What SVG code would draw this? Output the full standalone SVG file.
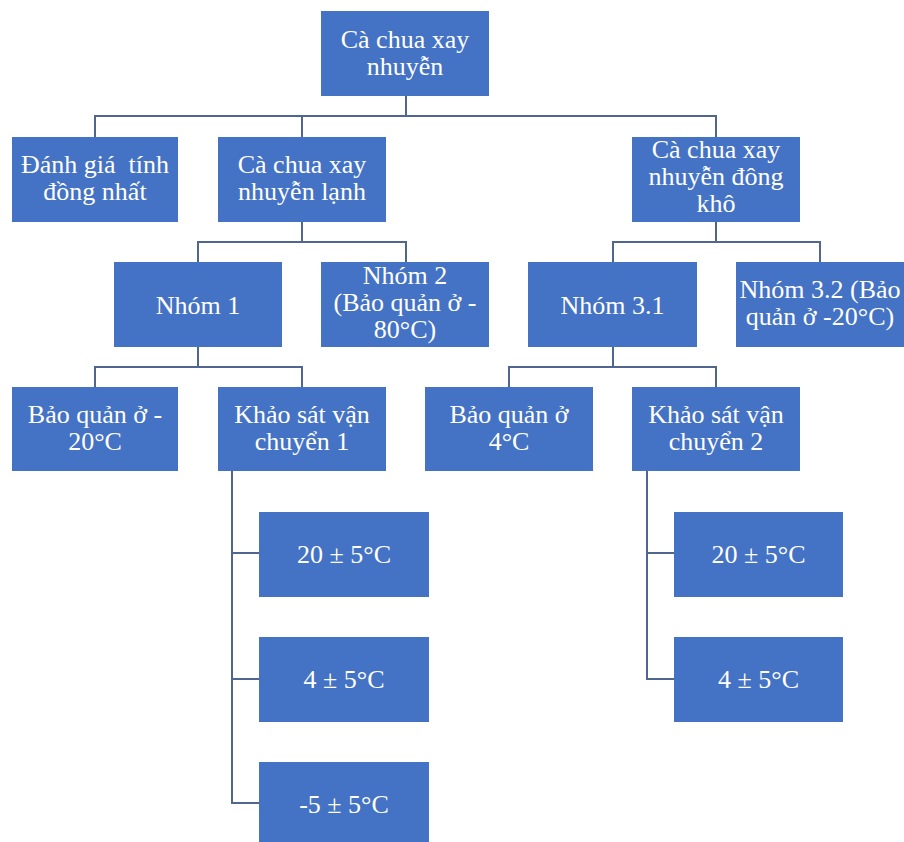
<svg xmlns="http://www.w3.org/2000/svg" width="904" height="842" viewBox="0 0 904 842">
<style>
.box{fill:#4472C4;}
.t{font-family:'Liberation Serif','Times New Roman','DejaVu Serif',serif;font-size:26px;fill:#ffffff;text-anchor:middle;}
.c{fill:none;stroke:#51668F;stroke-width:2;}
</style>
<rect width="904" height="842" fill="#ffffff"/>
<g id="connectors">
<path class="c" d="M406 96V116M95 137V116H716V137M302 116V137"/>
<path class="c" d="M302 222V242M198 262V242H406V262"/>
<path class="c" d="M716 222V242M613 262V242H820V262"/>
<path class="c" d="M198 347V367M95 387V367H302V387"/>
<path class="c" d="M613 347V367M509 387V367H716V387"/>
<path class="c" d="M232 471V803H259M232 553H259M232 679H259"/>
<path class="c" d="M647 471V679H674M647 553H674"/>
</g>
<g id="root"><rect class="box" x="321" y="11" width="168" height="85"/><text class="t" font-family="Liberation Serif, serif" x="405" y="48">Cà chua xay</text><text class="t" font-family="Liberation Serif, serif" x="405" y="75">nhuyễn</text></g>
<g id="danhgia"><rect class="box" x="12" y="137" width="166" height="85"/><text class="t" x="95" y="173" xml:space="preserve">Đánh giá  tính</text><text class="t" x="95" y="200">đồng nhất</text></g>
<g id="lanh"><rect class="box" x="218" y="137" width="168" height="85"/><text class="t" x="302" y="173">Cà chua xay</text><text class="t" x="302" y="200">nhuyễn lạnh</text></g>
<g id="dongkho"><rect class="box" x="632" y="137" width="168" height="85"/><text class="t" x="716" y="158">Cà chua xay</text><text class="t" x="716" y="185">nhuyễn đông</text><text class="t" x="716" y="212">khô</text></g>
<g id="nhom1"><rect class="box" x="114" y="262" width="168" height="85"/><text class="t" x="198" y="314">Nhóm 1</text></g>
<g id="nhom2"><rect class="box" x="321" y="262" width="168" height="85"/><text class="t" x="405" y="284">Nhóm 2</text><text class="t" x="405" y="311">(Bảo quản ở -</text><text class="t" x="405" y="338">80°C)</text></g>
<g id="nhom31"><rect class="box" x="528" y="262" width="169" height="85"/><text class="t" x="612.5" y="314">Nhóm 3.1</text></g>
<g id="nhom32"><rect class="box" x="736" y="262" width="168" height="85"/><text class="t" x="820" y="298">Nhóm 3.2 (Bảo</text><text class="t" x="820" y="325">quản ở -20°C)</text></g>
<g id="bq20"><rect class="box" x="12" y="387" width="166" height="84"/><text class="t" x="95" y="423">Bảo quản ở -</text><text class="t" x="95" y="450">20°C</text></g>
<g id="ks1"><rect class="box" x="218" y="387" width="168" height="84"/><text class="t" x="302" y="423">Khảo sát vận</text><text class="t" x="302" y="450">chuyển 1</text></g>
<g id="bq4"><rect class="box" x="425" y="387" width="168" height="84"/><text class="t" x="509" y="423">Bảo quản ở</text><text class="t" x="509" y="450">4°C</text></g>
<g id="ks2"><rect class="box" x="632" y="387" width="168" height="84"/><text class="t" x="716" y="423">Khảo sát vận</text><text class="t" x="716" y="450">chuyển 2</text></g>
<g id="l1a"><rect class="box" x="259" y="512" width="170" height="85"/><text class="t" x="344" y="563">20 ± 5°C</text></g>
<g id="l1b"><rect class="box" x="259" y="637" width="170" height="85"/><text class="t" x="344" y="688">4 ± 5°C</text></g>
<g id="l1c"><rect class="box" x="259" y="762" width="170" height="85"/><text class="t" x="344" y="813">-5 ± 5°C</text></g>
<g id="l2a"><rect class="box" x="674" y="512" width="169" height="85"/><text class="t" x="758.5" y="563">20 ± 5°C</text></g>
<g id="l2b"><rect class="box" x="674" y="637" width="169" height="85"/><text class="t" x="758.5" y="688">4 ± 5°C</text></g>
</svg>
